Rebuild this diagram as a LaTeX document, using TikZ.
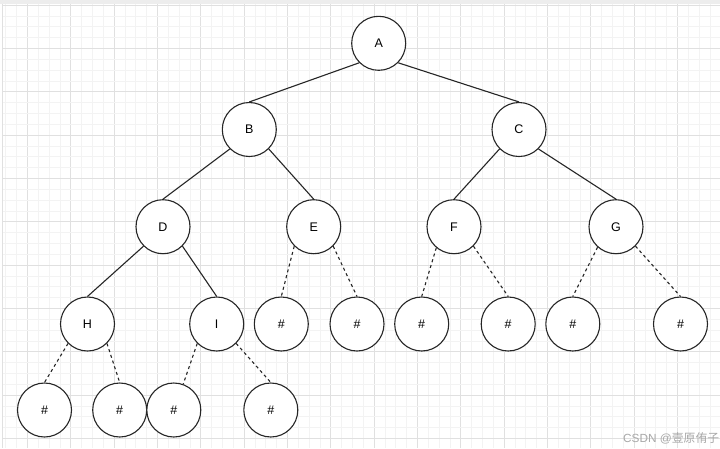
\documentclass[tikz,border=0pt]{standalone}
\usepackage{fontspec}
\setmainfont{Liberation Sans}
\newfontfamily\cjkfont{Noto Sans CJK SC}
\definecolor{minorgrid}{HTML}{F3F3F3}
\definecolor{majorgrid}{HTML}{E0E0E0}
\definecolor{wmgray}{HTML}{A8A8A8}
\tikzset{
  vertex/.style={circle, draw=black!85, line width=1.1pt, fill=white, minimum size=54pt, inner sep=0pt, font=\fontsize{12.5}{14}\selectfont},
  treeedge/.style={draw=black!85, line width=1.1pt},
  nulledge/.style={draw=black!85, line width=1.1pt, dash pattern=on 3pt off 3pt},
}
\begin{document}
\begin{tikzpicture}[x=1pt,y=-1pt]
\useasboundingbox (0,0) rectangle (720,448);
\fill[white] (0,0) rectangle (720,448);
% grid
\foreach \k in {0,...,66} {
  \pgfmathsetmacro{\xx}{5.67+\k*10.8333}
  \pgfmathtruncatemacro{\m}{mod(\k,4)}
  \ifnum\m=2
    \draw[majorgrid, line width=0.8pt] (\xx,4) -- (\xx,448);
  \else
    \draw[minorgrid, line width=0.6pt] (\xx,4) -- (\xx,448);
  \fi
}
\foreach \k in {0,...,41} {
  \pgfmathsetmacro{\yy}{5+\k*10.8333}
  \pgfmathtruncatemacro{\m}{mod(\k,4)}
  \ifnum\m=0
    \draw[majorgrid, line width=0.8pt] (2,\yy) -- (720,\yy);
  \else
    \draw[minorgrid, line width=0.6pt] (2,\yy) -- (720,\yy);
  \fi
}
\fill[black!7] (0,0) rectangle (720,4);
\draw[black!12, line width=1pt] (2,4) -- (2,448);

% nodes
\node[vertex] (A) at (378.7,43.3) {A};
\node[vertex] (B) at (249.3,129.5) {B};
\node[vertex] (C) at (519.0,129.5) {C};
\node[vertex] (D) at (163.0,226.7) {D};
\node[vertex] (E) at (313.7,226.7) {E};
\node[vertex] (F) at (454.0,226.7) {F};
\node[vertex] (G) at (616.0,226.7) {G};
\node[vertex] (H) at (87.5,324.0) {H};
\node[vertex] (I) at (216.7,324.0) {I};
\node[vertex] (e1) at (281.3,324.0) {\#};
\node[vertex] (e2) at (357.0,324.0) {\#};
\node[vertex] (f1) at (421.7,324.0) {\#};
\node[vertex] (f2) at (508.2,324.0) {\#};
\node[vertex] (g1) at (572.8,324.0) {\#};
\node[vertex] (g2) at (680.5,324.0) {\#};
\node[vertex] (h1) at (44.5,410.0) {\#};
\node[vertex] (h2) at (119.7,410.0) {\#};
\node[vertex] (i1) at (173.8,410.0) {\#};
\node[vertex] (i2) at (270.8,410.0) {\#};

% solid edges
\draw[treeedge] (A.225) -- (B.north);
\draw[treeedge] (A.-45) -- (C.north);
\draw[treeedge] (B.225) -- (D.north);
\draw[treeedge] (B.-45) -- (E.north);
\draw[treeedge] (C.225) -- (F.north);
\draw[treeedge] (C.-45) -- (G.north);
\draw[treeedge] (D.225) -- (H.north);
\draw[treeedge] (D.-45) -- (I.north);

% dashed edges
\draw[nulledge] (H.225) -- (h1.north);
\draw[nulledge] (H.-45) -- (h2.north);
\draw[nulledge] (I.225) -- (i1.70);
\draw[nulledge] (I.-45) -- (i2.north);
\draw[nulledge] (E.225) -- (e1.north);
\draw[nulledge] (E.-45) -- (e2.north);
\draw[nulledge] (F.230) -- (f1.north);
\draw[nulledge] (F.-45) -- (f2.north);
\draw[nulledge] (G.228) -- (g1.north);
\draw[nulledge] (G.-45) -- (g2.north);

% watermark
\node[anchor=west, text=wmgray, inner sep=0pt, font=\fontsize{11.8}{13}\selectfont] (wm) at (623,438) {CSDN @{\cjkfont 壹原侑子}};
\end{tikzpicture}
\end{document}
